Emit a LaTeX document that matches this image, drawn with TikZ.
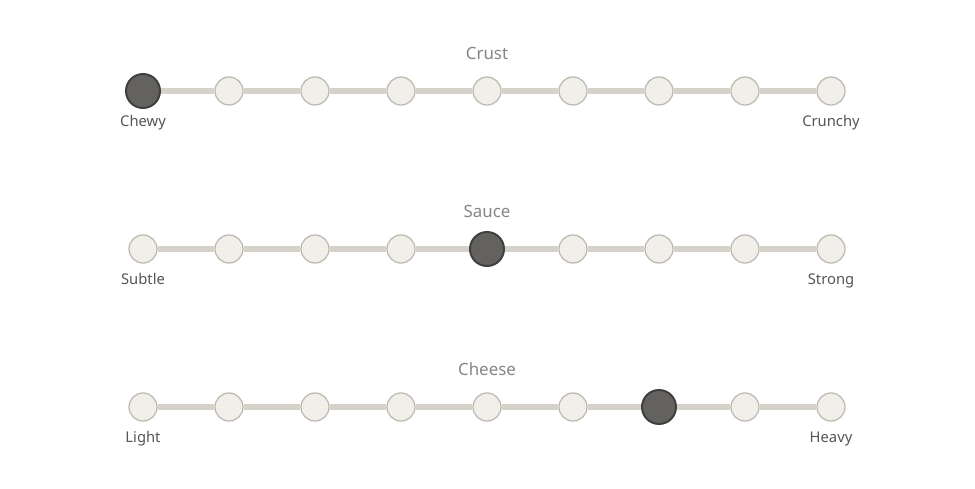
\documentclass[tikz,border=0pt]{standalone}
\usepackage{fontspec}
\setmainfont{Noto Sans}
\usetikzlibrary{positioning}
\definecolor{track}{HTML}{D5D2C9}
\definecolor{knobfill}{HTML}{F1EFE9}
\definecolor{knobedge}{HTML}{BEBAB1}
\definecolor{selfill}{HTML}{636260}
\definecolor{seledge}{HTML}{3F3F3D}
\definecolor{titlegray}{HTML}{858585}
\definecolor{labelgray}{HTML}{555555}

\begin{document}
\begin{tikzpicture}[
  x=0.025cm, y=-0.025cm,
  knob/.style={circle, minimum size=28*0.025cm, inner sep=0pt,
    fill=knobfill, draw=knobedge, line width=0.9pt},
  knobsel/.style={circle, minimum size=34*0.025cm, inner sep=0pt,
    fill=selfill, draw=seledge, line width=1.4pt},
  trackline/.style={track, line width=3.6pt},
  rowtitle/.style={font=\fontsize{12}{14}\selectfont, text=titlegray,
    text height=1.6ex, text depth=0.5ex},
  endlabel/.style={font=\fontsize{10.5}{12}\selectfont, text=labelgray,
    text height=1.6ex, text depth=0.5ex},
]

% Canvas
\useasboundingbox (0,0) rectangle (975,488);

% =============================================
% Sliders
% =============================================

\foreach \row/\name/\lo/\hi/\sel/\y in {
    crust/Crust/Chewy/Crunchy/1/91,
    sauce/Sauce/Subtle/Strong/5/249,
    cheese/Cheese/Light/Heavy/7/407} {

  % Knobs
  \foreach \i in {1,...,9} {
    \ifnum\i=\sel \def\kstyle{knobsel}\else\def\kstyle{knob}\fi
    \node[\kstyle] (\row-\i) at ({143+86*(\i-1)},\y) {};
  }

  % Track between knobs
  \foreach \i [evaluate=\i as \j using int(\i+1)] in {1,...,8}
    \draw[trackline] (\row-\i) -- (\row-\j);

  % Title and end labels
  \node[rowtitle, above=16pt of \row-5.center] (\row-title) {\name};
  \node[endlabel, below=13pt of \row-1.center] (\row-lo) {\lo};
  \node[endlabel, below=13pt of \row-9.center] (\row-hi) {\hi};
}

\end{tikzpicture}
\end{document}
